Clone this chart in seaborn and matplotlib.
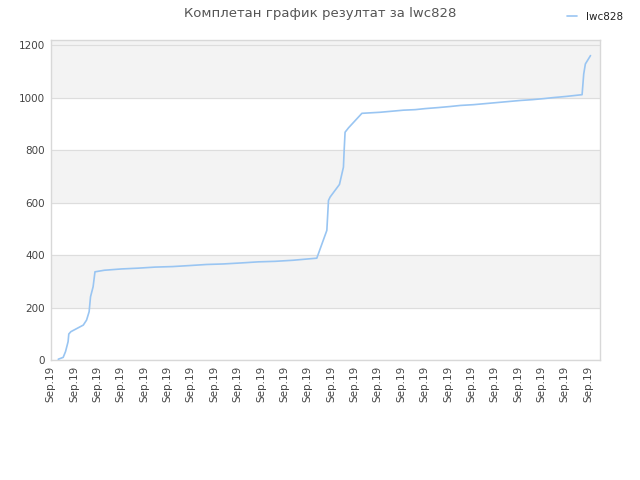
import matplotlib
matplotlib.use("Agg")
import matplotlib.pyplot as plt
import seaborn as sns
import pandas as pd

# time position (in tick units, one tick per label) and cumulative score
time_pos = [0.33, 0.54, 0.64, 0.75, 0.78, 0.87, 1.40, 1.54, 1.65, 1.71, 1.82, 1.90, 2.30,
            3.04, 3.75, 4.47, 5.22, 5.97, 6.68, 7.39, 8.18, 8.89, 9.61, 10.36, 11.39,
            11.82, 11.89, 11.96, 12.36, 12.53, 12.56, 12.60, 12.75, 13.32,
            14.10, 14.60, 15.10, 15.60, 16.03, 16.60, 17.10, 17.53, 18.10, 18.60,
            19.10, 19.60, 20.10, 20.60, 21.10, 21.52, 22.02, 22.74, 22.81, 22.88, 23.10]
score = [3, 10, 32, 70, 99, 108, 133, 152, 184, 241, 279, 336, 342,
         347, 350, 354, 356, 360, 364, 366, 370, 374, 376, 380, 388,
         494, 608, 621, 669, 735, 798, 868, 885, 940,
         944, 948, 952, 954, 958, 962, 966, 970, 973, 977,
         981, 985, 989, 992, 996, 1000, 1004, 1011, 1090, 1128, 1160]
tick_labels = ["Sep.19"] * 24
y_ticks = [0, 200, 400, 600, 800, 1000, 1200]

df = pd.DataFrame({"t": time_pos, "score": score})

sns.set_style("white")
fig = plt.figure(figsize=(6.4, 4.8), dpi=100)
ax = fig.add_axes([0.079, 0.25, 0.859, 0.667])

# alternating bands
for lo in (200, 600, 1000):
    ax.axhspan(lo, lo + 200 if lo < 1000 else 1300, color="#f3f3f3", zorder=0)
for yv in y_ticks:
    ax.axhline(yv, color="#dddddd", lw=0.8, zorder=1)

sns.lineplot(data=df, x="t", y="score", ax=ax, color="#99c5f2", lw=1.2,
             label="lwc828", zorder=3)

ax.set_xlim(0, 23.52)
ax.set_ylim(0, 1220)
ax.set_xticks(range(len(tick_labels)))
ax.set_xticklabels(tick_labels, rotation=90, fontsize=7.5, color="#444444")
ax.set_yticks(y_ticks)
ax.set_yticklabels([str(v) for v in y_ticks], fontsize=7.5, color="#444444")
ax.tick_params(length=0, pad=4)
ax.set_xlabel("")
ax.set_ylabel("")
for s in ax.spines.values():
    s.set_color("#d8d8d8")
    s.set_linewidth(1)

ax.legend_.remove()
h, l = ax.get_legend_handles_labels()
fig.legend(h, l, loc="upper right", bbox_to_anchor=(0.988, 0.995), frameon=False,
           handlelength=1.0, fontsize=7.5, handletextpad=0.8, labelcolor="#222222")

fig.suptitle("Комплетан график резултат за lwc828", fontsize=9.5, color="#555555", y=0.985)
fig.savefig("out.png", dpi=100)
